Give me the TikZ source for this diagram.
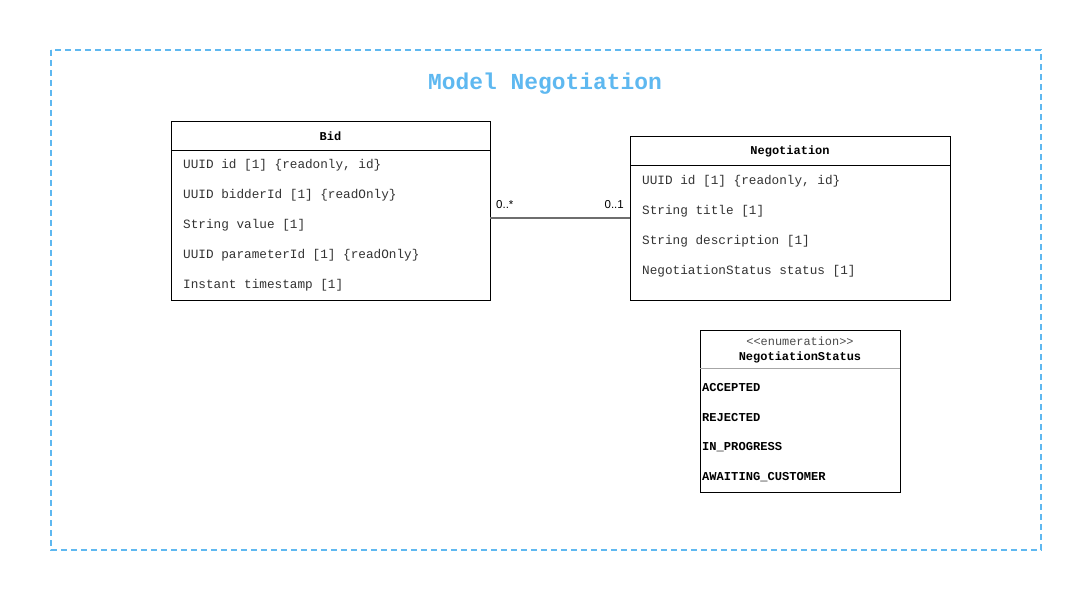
\documentclass[tikz,border=0pt]{standalone}
\usepackage{fontspec}
\setmainfont{Liberation Sans}
\newfontfamily\umlmono{Liberation Mono}
\definecolor{frameblue}{RGB}{94,184,240}
\definecolor{linegray}{RGB}{110,110,110}
\tikzset{
  umlbox/.style={draw, line width=0.9pt, fill=white, inner sep=0pt},
  classname/.style={font=\umlmono\bfseries\fontsize{12}{14}\selectfont},
  attr/.style={anchor=west, inner sep=0pt, font=\umlmono\fontsize{12.7}{14}\selectfont, text=black!80},
  literal/.style={anchor=west, inner sep=0pt, font=\umlmono\bfseries\fontsize{12.1}{14}\selectfont},
  mult/.style={inner sep=0pt, font=\fontsize{11.5}{13}\selectfont}
}
\begin{document}
\begin{tikzpicture}[x=1pt, y=-1pt]
  \useasboundingbox (0,0) rectangle (1090,600);

  % Package frame
  \draw[frameblue, line width=1.6pt, dash pattern=on 6pt off 4pt] (51,50) rectangle (1041,550);
  \node[font=\umlmono\bfseries\fontsize{22.9}{26}\selectfont, text=frameblue] (title) at (545,84) {Model Negotiation};

  % Class Bid
  \node[umlbox, minimum width=319pt, minimum height=179pt] (bid) at (330.5,210.5) {};
  \draw[line width=0.9pt] (171,150) -- (490,150);
  \node[classname] (bidname) at (330.5,136) {Bid};
  \node[attr] (bid1) at (183,165.5) {UUID id [1] \{readonly, id\}};
  \node[attr] (bid2) at (183,195.5) {UUID bidderId [1] \{readOnly\}};
  \node[attr] (bid3) at (183,225.5) {String value [1]};
  \node[attr] (bid4) at (183,255.5) {UUID parameterId [1] \{readOnly\}};
  \node[attr] (bid5) at (183,285.5) {Instant timestamp [1]};

  % Class Negotiation
  \node[umlbox, minimum width=320pt, minimum height=164pt] (neg) at (790,218) {};
  \draw[line width=0.9pt] (630,165) -- (950,165);
  \node[classname] (negname) at (790,151) {Negotiation};
  \node[attr] (neg1) at (642,181.5) {UUID id [1] \{readonly, id\}};
  \node[attr] (neg2) at (642,211.5) {String title [1]};
  \node[attr] (neg3) at (642,241.5) {String description [1]};
  \node[attr] (neg4) at (642,271.5) {NegotiationStatus status [1]};

  % Association
  \draw[linegray, line width=1.3pt] (neg.west) -- (neg.west -| bid.east);
  \node[mult, anchor=west] (multbid) at (496,205) {0..*};
  \node[mult, anchor=east] (multneg) at (624,205) {0..1};

  % Enumeration NegotiationStatus
  \node[umlbox, minimum width=200pt, minimum height=162pt] (status) at (800,411) {};
  \draw[black!35, line width=0.7pt] (700,368) -- (900,368);
  \node[font=\umlmono\fontsize{11.9}{14}\selectfont, text=black!70] (stereo) at (800,341) {<{}<enumeration>{}>};
  \node[classname] (statusname) at (800,357) {NegotiationStatus};
  \node[literal] (lit1) at (702,387.5) {ACCEPTED};
  \node[literal] (lit2) at (702,417.5) {REJECTED};
  \node[literal] (lit3) at (702,447.5) {IN\_PROGRESS};
  \node[literal] (lit4) at (702,477.5) {AWAITING\_CUSTOMER};
\end{tikzpicture}
\end{document}
